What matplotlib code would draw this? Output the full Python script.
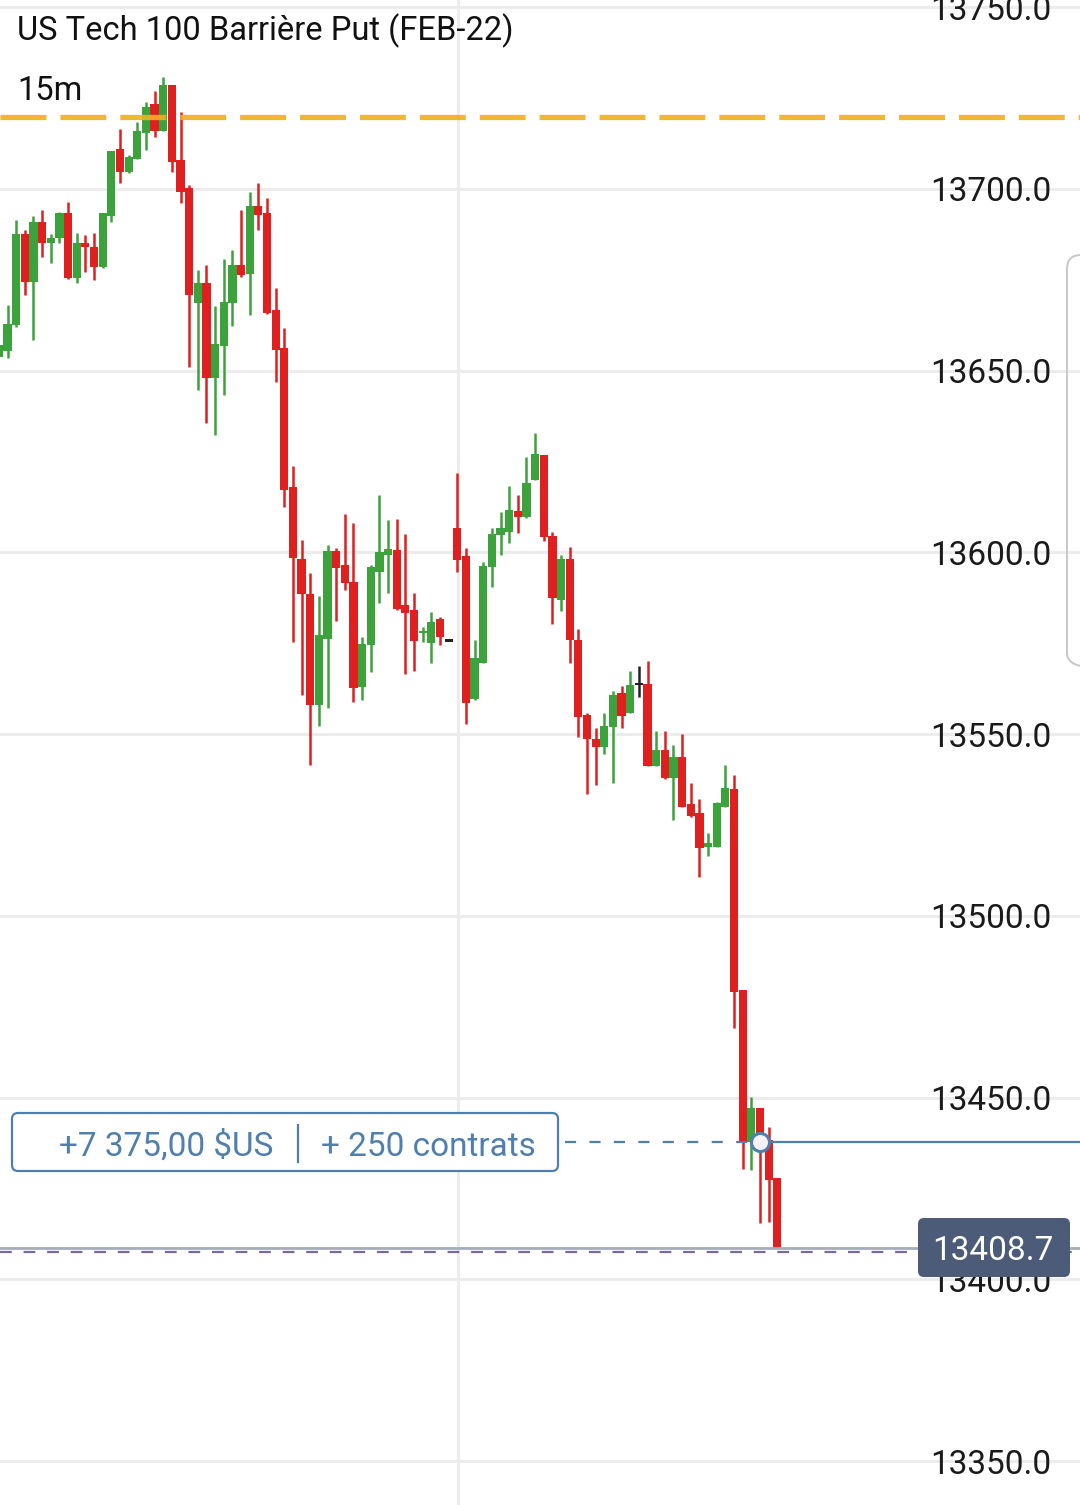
import numpy as np
import matplotlib.pyplot as plt
from matplotlib.patches import FancyBboxPatch

plt.rcParams['font.family'] = ['Roboto', 'DejaVu Sans']

# 15m candles, US Tech 100 (index -1 is the partly visible one at the left edge)
opens = [13653.8, 13655.4, 13662.6, 13687.6, 13674.4, 13690.9, 13685.1, 13686.5, 13693.4, 13675.5,
         13685.1, 13684.0, 13678.5, 13692.6, 13711.0, 13704.7, 13708.3, 13715.4, 13723.4, 13716.0,
         13728.6, 13708.0, 13700.3, 13668.6, 13674.1, 13648.0, 13656.8, 13668.6, 13679.1, 13676.6,
         13695.3, 13693.4, 13666.7, 13656.2, 13618.0, 13598.2, 13588.6, 13558.0, 13576.2, 13600.4,
         13596.5, 13591.9, 13563.0, 13574.5, 13594.6, 13599.3, 13600.7, 13585.5, 13584.2, 13577.8,
         13575.1, 13581.7, 13575.8, 13606.7, 13599.0, 13559.7, 13569.6, 13596.0, 13604.8, 13605.6,
         13611.4, 13609.7, 13619.9, 13626.8, 13604.5, 13586.9, 13598.2, 13575.9, 13555.3, 13548.7,
         13546.5, 13552.0, 13561.3, 13555.8, 13563.8, 13563.8, 13541.2, 13545.6, 13537.9, 13543.7,
         13530.8, 13528.3, 13518.9, 13518.9, 13529.9, 13534.9, 13479.6, 13437.7, 13447.1, 13438.3,
         13427.8]
highs = [13657.6, 13668.1, 13691.5, 13688.7, 13692.6, 13694.2, 13687.6, 13693.7, 13696.4, 13687.9,
         13687.3, 13687.9, 13693.4, 13710.5, 13716.5, 13709.4, 13718.4, 13723.9, 13727.0, 13730.8,
         13728.6, 13721.2, 13701.1, 13677.7, 13679.1, 13667.8, 13680.7, 13683.2, 13694.2, 13699.2,
         13701.7, 13697.5, 13672.8, 13661.7, 13623.8, 13603.4, 13594.3, 13588.0, 13602.0, 13601.2,
         13610.6, 13608.1, 13576.7, 13596.5, 13615.8, 13608.9, 13609.2, 13605.1, 13588.8, 13579.5,
         13583.6, 13582.2, 13575.8, 13621.9, 13601.2, 13575.9, 13597.4, 13606.7, 13611.1, 13618.3,
         13615.8, 13626.3, 13632.9, 13626.8, 13605.6, 13599.3, 13601.5, 13578.9, 13555.8, 13551.7,
         13555.8, 13561.9, 13563.2, 13567.4, 13568.7, 13570.1, 13550.9, 13550.9, 13547.0, 13550.0,
         13536.5, 13532.1, 13522.8, 13531.3, 13541.5, 13538.7, 13479.6, 13450.1, 13447.1, 13441.9,
         13427.8]
lows = [13653.5, 13653.5, 13662.0, 13670.8, 13658.4, 13681.3, 13679.6, 13685.1, 13675.2, 13674.1,
        13677.2, 13675.0, 13678.3, 13690.9, 13701.7, 13704.4, 13708.3, 13710.7, 13714.3, 13716.0,
        13704.7, 13696.1, 13651.0, 13644.7, 13635.6, 13632.3, 13643.3, 13662.3, 13675.8, 13665.3,
        13688.7, 13665.6, 13646.9, 13612.5, 13575.3, 13560.8, 13541.5, 13552.2, 13557.2, 13581.1,
        13589.7, 13558.8, 13559.4, 13567.1, 13586.1, 13588.8, 13584.2, 13566.5, 13567.4, 13575.3,
        13569.6, 13574.5, 13575.8, 13594.6, 13552.8, 13559.4, 13569.6, 13590.5, 13599.3, 13602.6,
        13605.3, 13609.5, 13619.9, 13603.1, 13580.3, 13583.9, 13569.6, 13549.2, 13533.5, 13536.0,
        13544.5, 13536.5, 13551.7, 13555.8, 13560.2, 13541.2, 13541.2, 13537.6, 13526.4, 13529.9,
        13527.2, 13510.7, 13516.5, 13518.9, 13529.9, 13469.1, 13430.3, 13430.0, 13415.5, 13415.7,
        13408.7]
closes = [13657.1, 13662.9, 13687.6, 13674.4, 13690.9, 13685.1, 13686.5, 13693.4, 13675.5, 13685.1,
          13684.0, 13678.5, 13693.4, 13710.5, 13704.7, 13708.8, 13716.0, 13722.6, 13716.0, 13728.6,
          13707.4, 13699.2, 13670.8, 13674.1, 13648.0, 13657.3, 13668.9, 13679.1, 13676.3, 13695.3,
          13692.8, 13665.9, 13655.7, 13617.2, 13598.5, 13588.6, 13558.0, 13577.3, 13600.4, 13595.7,
          13591.6, 13562.7, 13574.8, 13596.0, 13600.1, 13600.9, 13584.4, 13583.3, 13575.6, 13578.4,
          13580.8, 13576.7, 13575.8, 13597.9, 13558.6, 13570.9, 13596.3, 13605.1, 13606.7, 13611.7,
          13609.7, 13619.1, 13627.1, 13604.2, 13587.5, 13598.2, 13575.9, 13554.7, 13548.7, 13546.5,
          13552.2, 13560.8, 13555.0, 13563.5, 13563.8, 13541.2, 13545.6, 13537.9, 13543.7, 13529.9,
          13527.5, 13518.7, 13520.0, 13531.0, 13535.2, 13479.0, 13437.7, 13447.1, 13437.7, 13427.3,
          13408.7]

y_levels = [13350, 13400, 13450, 13500, 13550, 13600, 13650, 13700, 13750]
barrier = 13719.8
entry_idx = 87
entry_price = 13437.7
last_price = 13408.7
vgrid_x = 52.1

GREEN = '#3ca33c'
RED = '#e01f1f'
BLACK = '#222222'
BLUE = '#4f7fae'
FS = 24

x = np.arange(-1, len(opens) - 1)
o = np.array(opens)
h = np.array(highs)
l = np.array(lows)
c = np.array(closes)
cols = np.where(c > o, GREEN, np.where(c < o, RED, BLACK))

fig = plt.figure(figsize=(10.8, 15.05), dpi=100)
ax = fig.add_axes([0, 0, 1, 1])
ax.set_xlim(-0.87, 124.0)
ax.set_ylim(13337.9, 13752.0)
ax.axis('off')

# grid
for lvl in y_levels:
    ax.axhline(lvl, color='#ececec', lw=2.2, zorder=0)
ax.axvline(vgrid_x, color='#ececec', lw=2.2, zorder=0)

# candles
body = np.abs(c - o)
min_body = 0.7
bottom = np.where(body < min_body, (o + c) / 2 - min_body / 2, np.minimum(o, c))
body = np.maximum(body, min_body)
ax.vlines(x, l, h, colors=cols, lw=1.8, zorder=2)
ax.bar(x, body, bottom=bottom, width=0.95, color=cols, zorder=3)

# barrier
ax.axhline(barrier, color='#f0b020', lw=3.8, dashes=(8.7, 2.65), alpha=0.92, zorder=4)

# position line
ax.hlines(entry_price, 64.5, entry_idx, color=BLUE, lw=1.6, linestyles=(0, (5, 6)), zorder=5)
ax.hlines(entry_price, entry_idx, 124.0, color=BLUE, lw=1.6, zorder=5)
ax.plot(entry_idx, entry_price, 'o', ms=13, mfc='#f6f1f4', mec=BLUE, mew=2.2, zorder=6)

# last price lines
ax.axhline(last_price, color='#a6adbb', lw=2, zorder=4)
ax.axhline(last_price - 1.1, color='#7a6a9a', lw=1.6, dashes=(5.3, 5.3), zorder=4)

# y labels
for lvl in y_levels:
    ax.text(1051 / 1080, lvl, f"{lvl:.1f}", transform=ax.get_yaxis_transform(),
            ha='right', va='center_baseline', fontsize=FS, color='#1a1a1a', zorder=7)

# overlay in pixel units for the UI pieces
ov = fig.add_axes([0, 0, 1, 1])
ov.set_xlim(0, 1080)
ov.set_ylim(1505, 0)
ov.axis('off')
ov.patch.set_alpha(0)

ov.text(17, 27, "US Tech 100 Barrière Put (FEB-22)", fontsize=23.5, va='center_baseline', ha='left', color='#111111')
ov.text(17, 87, "15m", fontsize=23.5, va='center_baseline', ha='left', color='#111111')

ov.add_patch(FancyBboxPatch((12, 1113), 546, 58, boxstyle="round,pad=0,rounding_size=6",
                            fc='white', ec=BLUE, lw=1.6, zorder=5))
ov.text(166, 1143, "+7 375,00 $US", fontsize=FS, ha='center', va='center_baseline', color=BLUE, zorder=6)
ov.plot([298, 298], [1125, 1162], color=BLUE, lw=1.6, zorder=6)
ov.text(428, 1143, "+ 250 contrats", fontsize=FS, ha='center', va='center_baseline', color=BLUE, zorder=6)

ov.add_patch(FancyBboxPatch((918, 1218), 152, 59, boxstyle="round,pad=0,rounding_size=6",
                            fc='#4b5b78', ec='none', zorder=5))
ov.text(993, 1247, f"{last_price:.1f}", fontsize=FS, ha='center', va='center_baseline', color='white', zorder=6)

ov.add_patch(FancyBboxPatch((1067, 255), 40, 412, boxstyle="round,pad=0,rounding_size=14",
                            fc='none', ec='#c8c8c8', lw=1.4, zorder=5))

fig.savefig("out.png", dpi=100)
